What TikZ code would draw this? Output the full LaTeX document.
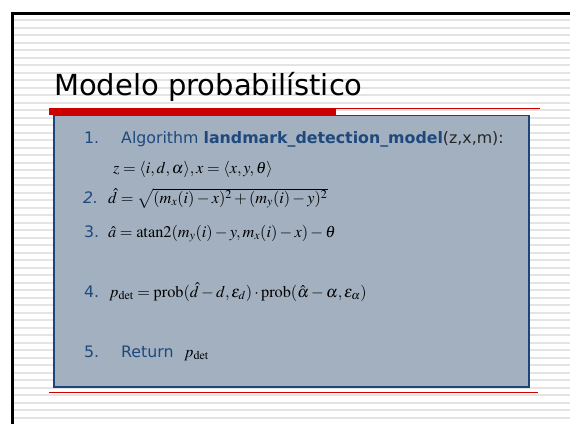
\documentclass[tikz,border=0pt]{standalone}
\usepackage{amsmath}
\usepackage{mathptmx}
\usepackage[no-math]{fontspec}
\setmainfont{DejaVu Sans}
\usepackage{tikz}
\usetikzlibrary{positioning}

\definecolor{slideblue}{HTML}{1F497D}
\definecolor{boxfill}{HTML}{A2B0C0}
\definecolor{boxline}{HTML}{1B4478}
\definecolor{stripe}{HTML}{E4E4E4}
\definecolor{slidered}{HTML}{CC0000}

\tikzset{
    txt/.style = {anchor = base west, inner sep = 0, font = \fontsize{15.8}{18}\selectfont},
    num/.style = {txt, text = slideblue},
    eqn/.style = {anchor = base west, inner sep = 0, font = \fontsize{16.3}{18}\selectfont}
}

\begin{document}
\begin{tikzpicture}[x = 1pt, y = -1pt]
    \useasboundingbox (0, 0) rectangle (570, 424);

    %% background
    \fill[white] (0, 0) rectangle (570, 424);
    \foreach \y in {20, 27.5, ..., 424}
        \draw[stripe, line width = 2pt] (14, \y) -- (570, \y);
    \draw[line width = 3pt, line join = miter] (12.5, 424) -- (12.5, 13.5) -- (570, 13.5);

    %% title
    \node[anchor = base west, inner sep = 0, font = \fontsize{29}{32}\selectfont] (title) at (54, 95) {Modelo probabil\'istico};
    \fill[slidered] (49, 108) rectangle (336, 115);
    \draw[slidered, line width = 1pt] (336, 108.5) -- (540, 108.5);

    %% box
    \draw[boxline, fill = boxfill, line width = 1.5pt] (54, 115.5) rectangle (529, 387);
    \draw[slidered, line width = 1pt] (49, 392) -- (538, 392);

    %% steps
    \node[num] (n1) at (84, 143) {1.};
    \node[txt] (alg) at (121, 143) {\textcolor{slideblue}{Algorithm \textbf{landmark\_detection\_model}}\textcolor{black!85}{(z,x,m):}};
    \node[eqn] (zx) at (113, 173) {$z = \langle i, d, \alpha \rangle, x = \langle x, y, \theta \rangle$};

    \node[num, font = \fontsize{15.8}{18}\selectfont\itshape] (n2) at (83, 203) {2.};
    \node[eqn] (dhat) at (108, 203) {$\hat{d} = \sqrt{(m_x(i) - x)^2 + (m_y(i) - y)^2}$};

    \node[num] (n3) at (84, 237) {3.};
    \node[eqn] (ahat) at (108, 237) {$\hat{a} = \mathrm{atan2}(m_y(i) - y, m_x(i) - x) - \theta$};

    \node[num] (n4) at (84, 297) {4.};
    \node[eqn] (pdet) at (109, 297) {$p_{\mathrm{det}} = \mathrm{prob}(\hat{d} - d, \varepsilon_d) \cdot \mathrm{prob}(\hat{\alpha} - \alpha, \varepsilon_\alpha)$};

    \node[num] (n5) at (84, 357) {5.};
    \node[num] (ret) at (121, 357) {Return};
    \node[eqn] (res) at (184, 357) {$p_{\mathrm{det}}$};
\end{tikzpicture}
\end{document}
